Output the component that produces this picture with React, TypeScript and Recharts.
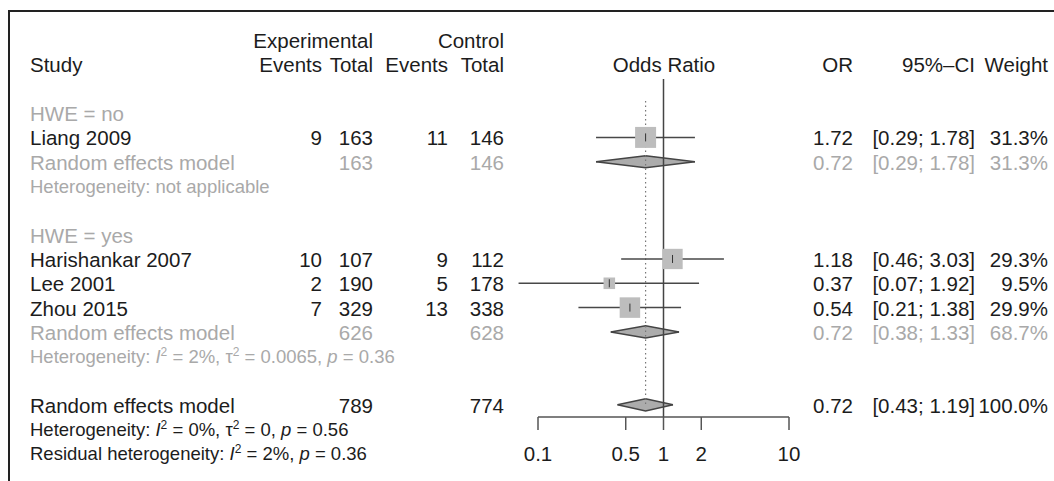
import React from "react";
import { Area, ComposedChart, ReferenceDot, ReferenceLine, Scatter, XAxis, YAxis } from "recharts";

// individual studies
const studyNames = ["Liang 2009", "Harishankar 2007", "Lee 2001", "Zhou 2015"];
const studyRows = [0, 5, 6, 7];
const expEvents = [9, 10, 2, 7];
const expTotal = [163, 107, 190, 329];
const ctrlEvents = [11, 9, 5, 13];
const ctrlTotal = [146, 112, 178, 338];
const studyOR = [0.72, 1.18, 0.37, 0.54];
const studyORText = ["1.72", "1.18", "0.37", "0.54"];
const studyLow = [0.29, 0.46, 0.07, 0.21];
const studyHigh = [1.78, 3.03, 1.92, 1.38];
const studyWeight = [31.3, 29.3, 9.5, 29.9];

// random effects summaries (two subgroups + overall)
const pooledRows = [1, 8, 11];
const pooledExpTotal = [163, 626, 789];
const pooledCtrlTotal = [146, 628, 774];
const pooledOR = [0.72, 0.72, 0.72];
const pooledLow = [0.29, 0.38, 0.43];
const pooledHigh = [1.78, 1.33, 1.19];
const pooledWeight = [31.3, 68.7, 100.0];
const pooledIsSubgroup = [true, true, false];

const subgroupLabels = ["HWE = no", "HWE = yes"];
const subgroupRows = [-1, 4];

const hetRows = [2, 9, 12, 13];
const hetPrefix = ["Heterogeneity", "Heterogeneity", "Heterogeneity", "Residual heterogeneity"];
const hetI2 = [null, "2%", "0%", "2%"];
const hetTau2 = [null, "0.0065", "0", null];
const hetP = [null, "0.36", "0.56", "0.36"];
const hetIsSubgroup = [true, true, false, false];

const xTicks = [0.1, 0.5, 1, 2, 10];

const FONT = "'Liberation Sans', Arial, Helvetica, sans-serif";
const BLACK = "#1c1c1c";
const GRAY = "#a9a9a9";
const FS = 20.5;
const FS_HET = 18.5;
const COL = { study: 30, expEv: 322, expTot: 373, ctrlEv: 448, ctrlTot: 504, plot: 664, or: 853, ci: 975, w: 1048 };
const DIAMOND_HALF = 0.25;

const ciText = (lo: number, hi: number) => `[${lo.toFixed(2)}; ${hi.toFixed(2)}]`;

const studyPoints = studyNames.map((_, i) => ({ x: studyOR[i], y: studyRows[i], w: studyWeight[i] }));

const diamonds = pooledRows.map((r, i) => [
  { x: pooledLow[i], band: [r, r] },
  { x: pooledOR[i], band: [r - DIAMOND_HALF, r + DIAMOND_HALF] },
  { x: pooledHigh[i], band: [r, r] },
]);

const textRows = [
  { y: -4, kind: "head1", i: 0 },
  { y: -3, kind: "head2", i: 0 },
  ...subgroupRows.map((r, i) => ({ y: r, kind: "group", i })),
  ...studyRows.map((r, i) => ({ y: r, kind: "study", i })),
  ...pooledRows.map((r, i) => ({ y: r, kind: "pooled", i })),
  ...hetRows.map((r, i) => ({ y: r, kind: "het", i })),
];

function T({ x, y, anchor = "end", color = BLACK, size = FS, children }: any) {
  return (
    <text x={x} y={y} textAnchor={anchor} fill={color} fontSize={size} fontFamily={FONT} style={{ whiteSpace: "pre" }}>
      {children}
    </text>
  );
}

function HetText({ i, y }: { i: number; y: number }) {
  const color = hetIsSubgroup[i] ? GRAY : BLACK;
  if (hetI2[i] == null) {
    return <T x={COL.study} y={y} anchor="start" color={color} size={FS_HET}>{`${hetPrefix[i]}: not applicable`}</T>;
  }
  const sup = (k: string) => [
    <tspan key={k + "a"} dy={-7} fontSize={12}>2</tspan>,
    <tspan key={k + "b"} dy={7}>{" "}</tspan>,
  ];
  return (
    <T x={COL.study} y={y} anchor="start" color={color} size={FS_HET}>
      <tspan>{`${hetPrefix[i]}: `}</tspan>
      <tspan fontStyle="italic">I</tspan>
      {sup("i")}
      <tspan>{`= ${hetI2[i]}, `}</tspan>
      {hetTau2[i] != null && <tspan>τ</tspan>}
      {hetTau2[i] != null && sup("t")}
      {hetTau2[i] != null && <tspan>{`= ${hetTau2[i]}, `}</tspan>}
      <tspan fontStyle="italic">p</tspan>
      <tspan>{` = ${hetP[i]}`}</tspan>
    </T>
  );
}

function TableRow({ cy, kind, i }: { cy: number; kind: string; i: number }) {
  const y = cy + 8;
  if (kind === "head1") {
    return (
      <g>
        <T x={COL.expTot} y={y}>Experimental</T>
        <T x={COL.ctrlTot} y={y}>Control</T>
      </g>
    );
  }
  if (kind === "head2") {
    return (
      <g>
        <T x={COL.study} y={y} anchor="start">Study</T>
        <T x={COL.expEv} y={y}>Events</T>
        <T x={COL.expTot} y={y}>Total</T>
        <T x={COL.ctrlEv} y={y}>Events</T>
        <T x={COL.ctrlTot} y={y}>Total</T>
        <T x={COL.plot} y={y} anchor="middle">Odds Ratio</T>
        <T x={COL.or} y={y}>OR</T>
        <T x={COL.ci} y={y}>95%–CI</T>
        <T x={COL.w} y={y}>Weight</T>
      </g>
    );
  }
  if (kind === "group") {
    return <T x={COL.study} y={y} anchor="start" color={GRAY}>{subgroupLabels[i]}</T>;
  }
  if (kind === "study") {
    return (
      <g>
        <T x={COL.study} y={y} anchor="start">{studyNames[i]}</T>
        <T x={COL.expEv} y={y}>{expEvents[i]}</T>
        <T x={COL.expTot} y={y}>{expTotal[i]}</T>
        <T x={COL.ctrlEv} y={y}>{ctrlEvents[i]}</T>
        <T x={COL.ctrlTot} y={y}>{ctrlTotal[i]}</T>
        <T x={COL.or} y={y}>{studyORText[i]}</T>
        <T x={COL.ci} y={y}>{ciText(studyLow[i], studyHigh[i])}</T>
        <T x={COL.w} y={y}>{studyWeight[i].toFixed(1) + "%"}</T>
      </g>
    );
  }
  if (kind === "pooled") {
    const c = pooledIsSubgroup[i] ? GRAY : BLACK;
    return (
      <g>
        <T x={COL.study} y={y} anchor="start" color={c}>Random effects model</T>
        <T x={COL.expTot} y={y} color={c}>{pooledExpTotal[i]}</T>
        <T x={COL.ctrlTot} y={y} color={c}>{pooledCtrlTotal[i]}</T>
        <T x={COL.or} y={y} color={c}>{pooledOR[i].toFixed(2)}</T>
        <T x={COL.ci} y={y} color={c}>{ciText(pooledLow[i], pooledHigh[i])}</T>
        <T x={COL.w} y={y} color={c}>{pooledWeight[i].toFixed(1) + "%"}</T>
      </g>
    );
  }
  return <HetText i={i} y={cy + 7} />;
}

function StudySquare(props: any) {
  const { cx, cy, payload } = props;
  const s = 3.75 * Math.sqrt(payload.w);
  return (
    <g>
      <rect x={cx - s / 2} y={cy - s / 2} width={s} height={s} fill="#bdbdbd" />
      <line x1={cx} x2={cx} y1={cy - 4} y2={cy + 4} stroke="#333" strokeWidth={1} />
    </g>
  );
}

export default function App() {
  return (
    <div style={{ position: "absolute", left: 0, top: 0, width: 1054, height: 481, background: "#fff" }}>
      <ComposedChart
        width={1054}
        height={481}
        margin={{ top: 28, right: 265, bottom: 24, left: 538 }}
        style={{ fontFamily: FONT }}
      >
        <XAxis
          type="number"
          dataKey="x"
          scale="log"
          domain={[0.1, 10]}
          ticks={xTicks}
          interval={0}
          tickFormatter={(v: number) => String(v)}
          tickSize={13}
          tickMargin={16}
          height={40}
          stroke="#555"
          strokeWidth={1.5}
          tick={{ fill: BLACK, fontSize: FS, fontFamily: FONT }}
        />
        <YAxis type="number" dataKey="y" domain={[-4.5, 11.5]} reversed hide />
        <ReferenceLine
          segment={[{ x: pooledOR[2], y: -1.5 }, { x: pooledOR[2], y: 11 }]}
          stroke="#777"
          strokeWidth={1.2}
          strokeDasharray="1.5 3"
        />
        {studyNames.map((_, i) => (
          <ReferenceLine
            key={"ci" + i}
            segment={[{ x: studyLow[i], y: studyRows[i] }, { x: studyHigh[i], y: studyRows[i] }]}
            ifOverflow="visible"
            stroke="#484848"
            strokeWidth={1.5}
          />
        ))}
        {diamonds.map((d, i) => (
          <Area
            key={i}
            data={d}
            dataKey="band"
            type="linear"
            fill="#acacac"
            fillOpacity={1}
            stroke="#444"
            strokeWidth={1.5}
            dot={false}
            activeDot={false}
            isAnimationActive={false}
          />
        ))}
        <Scatter data={studyPoints} shape={<StudySquare />} isAnimationActive={false} />
        <ReferenceLine
          segment={[{ x: 1, y: -2.4 }, { x: 1, y: 11.5 }]}
          stroke="#444"
          strokeWidth={1.5}
        />
        {textRows.map((row, k) => (
          <ReferenceDot
            key={"row" + k}
            x={1}
            y={row.y}
            r={0}
            ifOverflow="visible"
            shape={(p: any) => <TableRow cy={p.cy} kind={row.kind} i={row.i} />}
          />
        ))}
      </ComposedChart>
      <div
        style={{
          position: "absolute",
          left: 8,
          top: 10,
          right: 0,
          bottom: 0,
          borderTop: "2px solid #222",
          borderLeft: "2px solid #222",
          pointerEvents: "none",
        }}
      />
    </div>
  );
}
